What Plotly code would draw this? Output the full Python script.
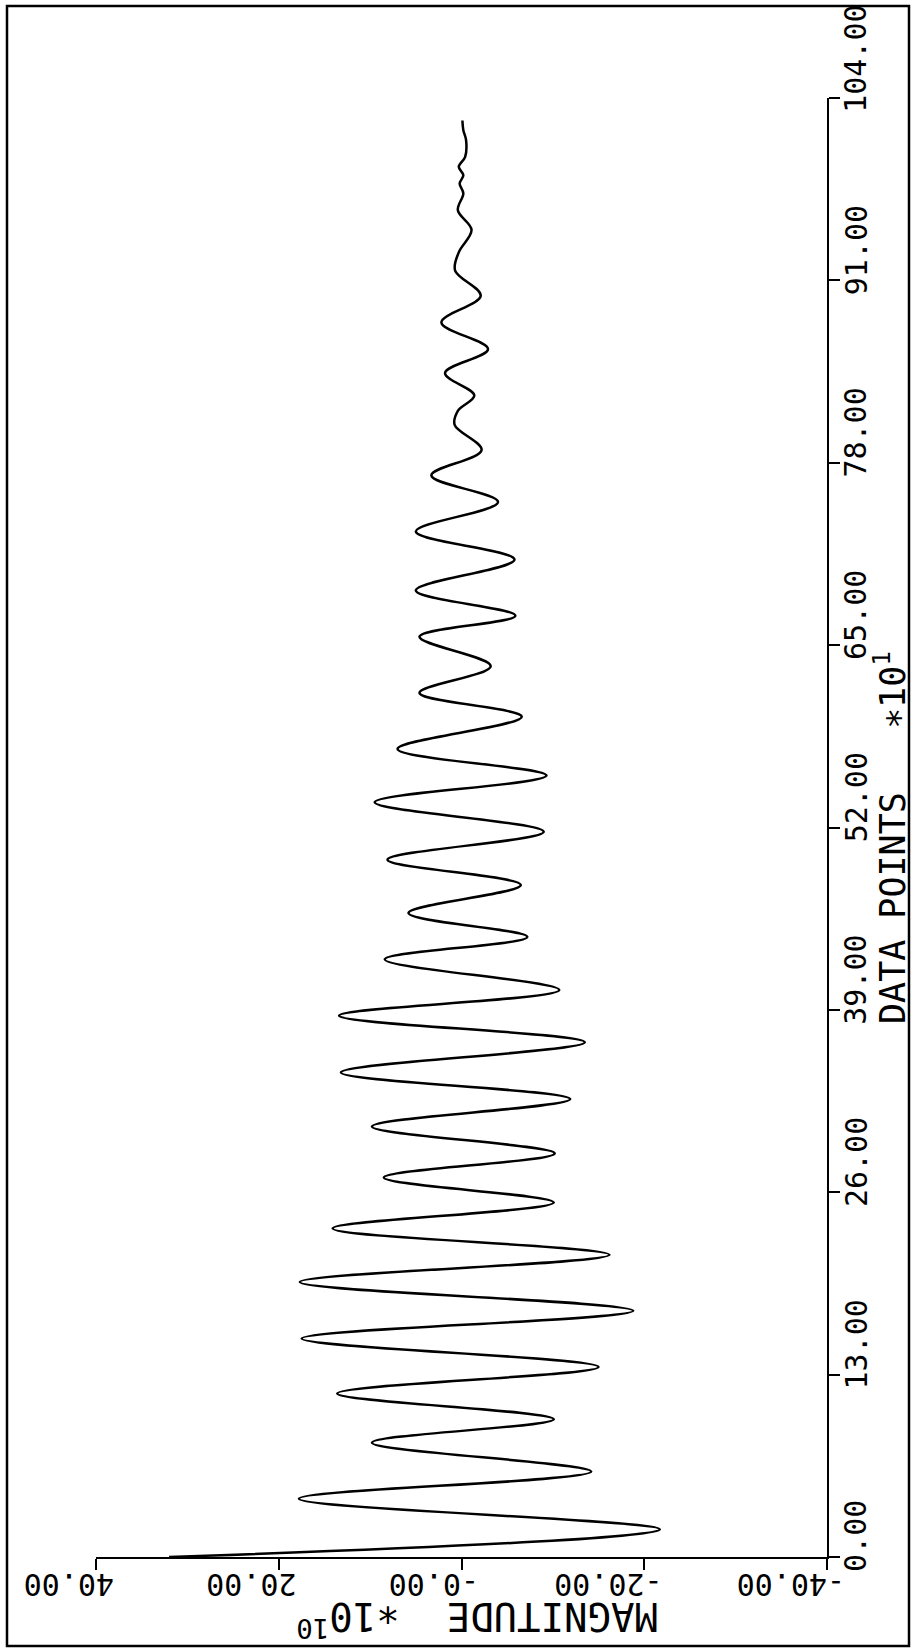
import plotly.graph_objects as go

# Recorded waveform: sample index (x10^1) and magnitude (x10^10) at each turning point
data_points = [0.0, 1.97, 4.16, 6.09, 8.15, 9.82, 11.65, 13.55, 15.57, 17.55,
               19.6, 21.54, 23.42, 25.27, 27.05, 28.77, 30.69, 32.64, 34.54, 36.69,
               38.59, 40.42, 42.6, 44.2, 45.9, 47.9, 49.7, 51.7, 53.8, 55.7,
               57.6, 59.9, 61.6, 63.5, 65.6, 67.1, 68.9, 71.1, 73.1, 75.2,
               77.1, 78.9, 80.7, 81.7, 82.8, 84.4, 86.1, 88.0, 89.9, 91.7,
               93.0, 94.6, 96.0, 97.2, 97.9, 98.5, 99.1, 99.8, 101.0, 101.7, 102.4]
magnitude = [32.0, -21.7, 17.8, -14.2, 9.8, -10.1, 13.6, -15.0, 17.5, -18.8,
             17.7, -16.2, 14.1, -10.1, 8.5, -10.2, 9.8, -11.9, 13.2, -13.5,
             13.4, -10.7, 8.4, -7.2, 5.8, -6.5, 8.1, -9.0, 9.5, -9.3,
             7.0, -6.6, 4.6, -3.2, 4.6, -5.9, 5.0, -5.8, 5.0, -4.0,
             3.3, -2.2, 0.75, 0.4, -1.4, 1.8, -2.9, 2.2, -2.1, 0.7,
             0.3, -1.1, 0.4, -0.2, 0.2, -0.2, 0.3, -0.4, -0.5, -0.2, -0.1]

mag_ticks = [40, 20, 0, -20, -40]
mag_labels = ["40.00", "20.00", "-0.00", "-20.00", "-40.00"]
pt_ticks = [0, 13, 26, 39, 52, 65, 78, 91, 104]
pt_labels = ["0.00", "13.00", "26.00", "39.00", "52.00", "65.00", "78.00", "91.00", "104.00"]

FONT = "DejaVu Sans Mono"
TICK_SIZE = 30
TITLE_SIZE = 39
W, H = 912, 1648
L, R, T, B = 96, 85, 98, 91
pw, ph = W - L - R, H - T - B


def px_to_paper_x(px):
    return (px - L) / pw


def px_to_paper_y(py):
    return (H - B - py) / ph


fig = go.Figure()
fig.add_trace(go.Scatter(
    x=magnitude, y=data_points, mode="lines",
    line=dict(color="black", width=2.5, shape="spline", smoothing=1.0),
    hoverinfo="skip", showlegend=False,
))

fig.update_layout(
    width=W, height=H,
    margin=dict(l=L, r=R, t=T, b=B, pad=0),
    paper_bgcolor="white", plot_bgcolor="white",
    showlegend=False,
    xaxis=dict(
        range=[40, -40], tickvals=mag_ticks, showticklabels=False,
        showgrid=False, zeroline=False,
        showline=True, linecolor="black", linewidth=2,
        ticks="outside", ticklen=11, tickwidth=2, tickcolor="black",
    ),
    yaxis=dict(
        range=[0, 104], tickvals=pt_ticks, showticklabels=False, side="right",
        showgrid=False, zeroline=False,
        showline=True, linecolor="black", linewidth=2,
        ticks="outside", ticklen=11, tickwidth=2, tickcolor="black",
    ),
)

annotations = []
# magnitude tick labels, printed upside down below the axis,
# each starting just past its tick
for v, s in zip(mag_ticks, mag_labels):
    annotations.append(dict(
        x=v, xref="x", y=0, yref="paper", text=s, showarrow=False,
        textangle=180, xanchor="right", yanchor="middle",
        xshift=20, yshift=-28,
        font=dict(family=FONT, size=TICK_SIZE, color="black"),
    ))
# data-point tick labels, reading upward along the right axis,
# each starting a little below its tick
char_w = 0.602 * TICK_SIZE
for v, s in zip(pt_ticks, pt_labels):
    annotations.append(dict(
        x=1, xref="paper", y=v, yref="y", text=s, showarrow=False,
        textangle=-90, xanchor="center", yanchor="middle",
        xshift=29, yshift=len(s) * char_w / 2 - 15,
        font=dict(family=FONT, size=TICK_SIZE, color="black"),
    ))
# axis titles
annotations.append(dict(
    x=px_to_paper_x(477), xref="paper", y=0, yref="paper",
    text="MAGNITUDE  \u221710<sup>10</sup>", showarrow=False,
    textangle=180, xanchor="center", yanchor="middle", yshift=-62,
    font=dict(family=FONT, size=TITLE_SIZE, color="black"),
))
annotations.append(dict(
    x=1, xref="paper", y=px_to_paper_y(838), yref="paper",
    text="DATA POINTS   \u221710<sup>1</sup>", showarrow=False,
    textangle=-90, xanchor="center", yanchor="middle", xshift=63,
    font=dict(family=FONT, size=TITLE_SIZE - 4, color="black"),
))
fig.update_layout(annotations=annotations)

# outer border around the whole sheet
fig.add_shape(
    type="rect", xref="paper", yref="paper",
    x0=px_to_paper_x(7), x1=px_to_paper_x(909),
    y0=px_to_paper_y(1646), y1=px_to_paper_y(6),
    line=dict(color="black", width=2.5), fillcolor="rgba(0,0,0,0)",
    layer="above",
)

fig.write_html("out.html")
